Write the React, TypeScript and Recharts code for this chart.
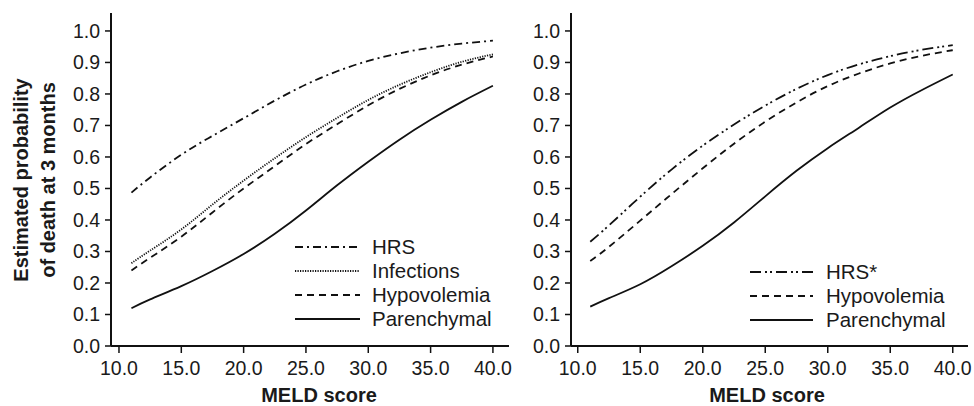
import { Legend, Line, LineChart, XAxis, YAxis } from "recharts";

const meld = [11, 12.5, 15, 17.5, 20, 22.5, 25, 27.5, 30, 32.5, 35, 37.5, 40];
const xTicks = [10, 15, 20, 25, 30, 35, 40];
const yTicks = [0, 0.1, 0.2, 0.3, 0.4, 0.5, 0.6, 0.7, 0.8, 0.9, 1.0];

// left panel
const leftHrs = [0.487, 0.535, 0.607, 0.667, 0.723, 0.779, 0.83, 0.872, 0.905, 0.929, 0.947, 0.96, 0.969];
const leftInfections = [0.263, 0.303, 0.37, 0.449, 0.525, 0.596, 0.663, 0.724, 0.781, 0.829, 0.869, 0.902, 0.926];
const leftHypovolemia = [0.24, 0.28, 0.347, 0.424, 0.5, 0.571, 0.641, 0.704, 0.764, 0.816, 0.859, 0.893, 0.919];
const leftParenchymal = [0.12, 0.148, 0.19, 0.238, 0.292, 0.356, 0.43, 0.51, 0.585, 0.655, 0.718, 0.775, 0.826];

// right panel
const rightHrs = [0.331, 0.383, 0.474, 0.56, 0.636, 0.703, 0.763, 0.816, 0.86, 0.894, 0.92, 0.94, 0.955];
const rightHypovolemia = [0.27, 0.315, 0.398, 0.482, 0.564, 0.642, 0.712, 0.773, 0.825, 0.865, 0.897, 0.921, 0.939];
const rightParenchymal = [0.125, 0.152, 0.196, 0.253, 0.318, 0.392, 0.475, 0.556, 0.628, 0.693, 0.757, 0.812, 0.862];

const leftData = meld.map((m, i) => ({
  meld: m,
  hrs: leftHrs[i],
  infections: leftInfections[i],
  hypovolemia: leftHypovolemia[i],
  parenchymal: leftParenchymal[i],
}));

const rightData = meld.map((m, i) => ({
  meld: m,
  hrs: rightHrs[i],
  hypovolemia: rightHypovolemia[i],
  parenchymal: rightParenchymal[i],
}));

const leftSeries = [
  { key: "hrs", name: "HRS", dash: "8 4 2 4" },
  { key: "infections", name: "Infections", dash: "1.2 1.3" },
  { key: "hypovolemia", name: "Hypovolemia", dash: "7 5" },
  { key: "parenchymal", name: "Parenchymal", dash: undefined },
];

const rightSeries = [
  { key: "hrs", name: "HRS*", dash: "11 4 2 3 2 4" },
  { key: "hypovolemia", name: "Hypovolemia", dash: "7 5" },
  { key: "parenchymal", name: "Parenchymal", dash: undefined },
];

const FONT = "'Liberation Sans', Arial, sans-serif";
const INK = "#111";
const tickStyle = { fontSize: 19.5, fill: "#1a1a1a", fontFamily: FONT };

const makeLegend = (series: typeof leftSeries, lineLen: number, gap: number) => (props: any) => {
  const items = [...(props.payload || [])].sort(
    (a: any, b: any) =>
      series.findIndex((s) => s.key === a.dataKey) - series.findIndex((s) => s.key === b.dataKey)
  );
  return (
    <div style={{ fontFamily: FONT, fontSize: 20.5, color: "#1a1a1a" }}>
      {items.map((p: any) => {
        const s = series.find((x) => x.key === p.dataKey);
        return (
          <div key={p.dataKey} style={{ display: "flex", alignItems: "center", height: 24 }}>
            <svg width={lineLen} height={4} style={{ display: "block" }}>
              <line x1={0} y1={2} x2={lineLen} y2={2} stroke={INK} strokeWidth={1.8} strokeDasharray={s?.dash} />
            </svg>
            <span style={{ marginLeft: gap, lineHeight: "24px" }}>{p.value}</span>
          </div>
        );
      })}
    </div>
  );
};

const Panel = ({
  data,
  series,
  width,
  yWidth,
  right,
  xDomain,
  legendPos,
  lineLen,
  gap,
}: {
  data: any[];
  series: typeof leftSeries;
  width: number;
  yWidth: number;
  right: number;
  xDomain: [number, number];
  legendPos: { left: number; top: number };
  lineLen: number;
  gap: number;
}) => (
  <LineChart width={width} height={406} data={data} margin={{ top: 13, right, bottom: 0, left: 0 }}>
    <XAxis
      dataKey="meld"
      type="number"
      domain={xDomain}
      ticks={xTicks}
      allowDataOverflow
      height={60}
      tickSize={7}
      tickMargin={8}
      tick={tickStyle}
      tickFormatter={(v: number) => v.toFixed(1)}
      axisLine={{ stroke: INK, strokeWidth: 2 }}
      tickLine={{ stroke: INK, strokeWidth: 1.5 }}
      interval={0}
    />
    <YAxis
      type="number"
      domain={[0, 1.057]}
      ticks={yTicks}
      allowDataOverflow
      width={yWidth}
      tickSize={6}
      tickMargin={5}
      tick={tickStyle}
      tickFormatter={(v: number) => v.toFixed(1)}
      axisLine={{ stroke: INK, strokeWidth: 2 }}
      tickLine={{ stroke: INK, strokeWidth: 1.5 }}
      interval={0}
    />
    <Legend
      layout="vertical"
      align="center"
      verticalAlign="middle"
      content={makeLegend(series, lineLen, gap)}
      wrapperStyle={{ left: legendPos.left, top: legendPos.top, width: "auto" }}
    />
    {series.map((s) => (
      <Line
        key={s.key}
        dataKey={s.key}
        name={s.name}
        type="natural"
        stroke={INK}
        strokeWidth={1.8}
        strokeDasharray={s.dash}
        dot={false}
        activeDot={false}
        isAnimationActive={false}
      />
    ))}
  </LineChart>
);

export default function App() {
  return (
    <div style={{ position: "absolute", left: 0, top: 0, width: 974, height: 406, background: "#fff" }}>
      <div style={{ position: "absolute", left: 0, top: 0 }}>
        <Panel
          data={leftData}
          series={leftSeries}
          width={520}
          yWidth={111}
          right={11}
          xDomain={[9.36, 41.29]}
          legendPos={{ left: 295, top: 235 }}
          lineLen={65}
          gap={12}
        />
      </div>
      <div style={{ position: "absolute", left: 520, top: 0 }}>
        <Panel
          data={rightData}
          series={rightSeries}
          width={454}
          yWidth={51}
          right={6}
          xDomain={[9.46, 41.22]}
          legendPos={{ left: 230, top: 260 }}
          lineLen={63}
          gap={13}
        />
      </div>
      <svg
        width={974}
        height={406}
        style={{ position: "absolute", left: 0, top: 0, pointerEvents: "none" }}
        fontFamily={FONT}
        fontWeight="bold"
        fontSize={20}
        fill="#1a1a1a"
      >
        <text transform="translate(28,180) rotate(-90)" textAnchor="middle">
          Estimated probability
        </text>
        <text transform="translate(55,180) rotate(-90)" textAnchor="middle">
          of death at 3 months
        </text>
        <text x={319} y={402} textAnchor="middle">
          MELD score
        </text>
        <text x={767} y={402} textAnchor="middle">
          MELD score
        </text>
      </svg>
    </div>
  );
}
